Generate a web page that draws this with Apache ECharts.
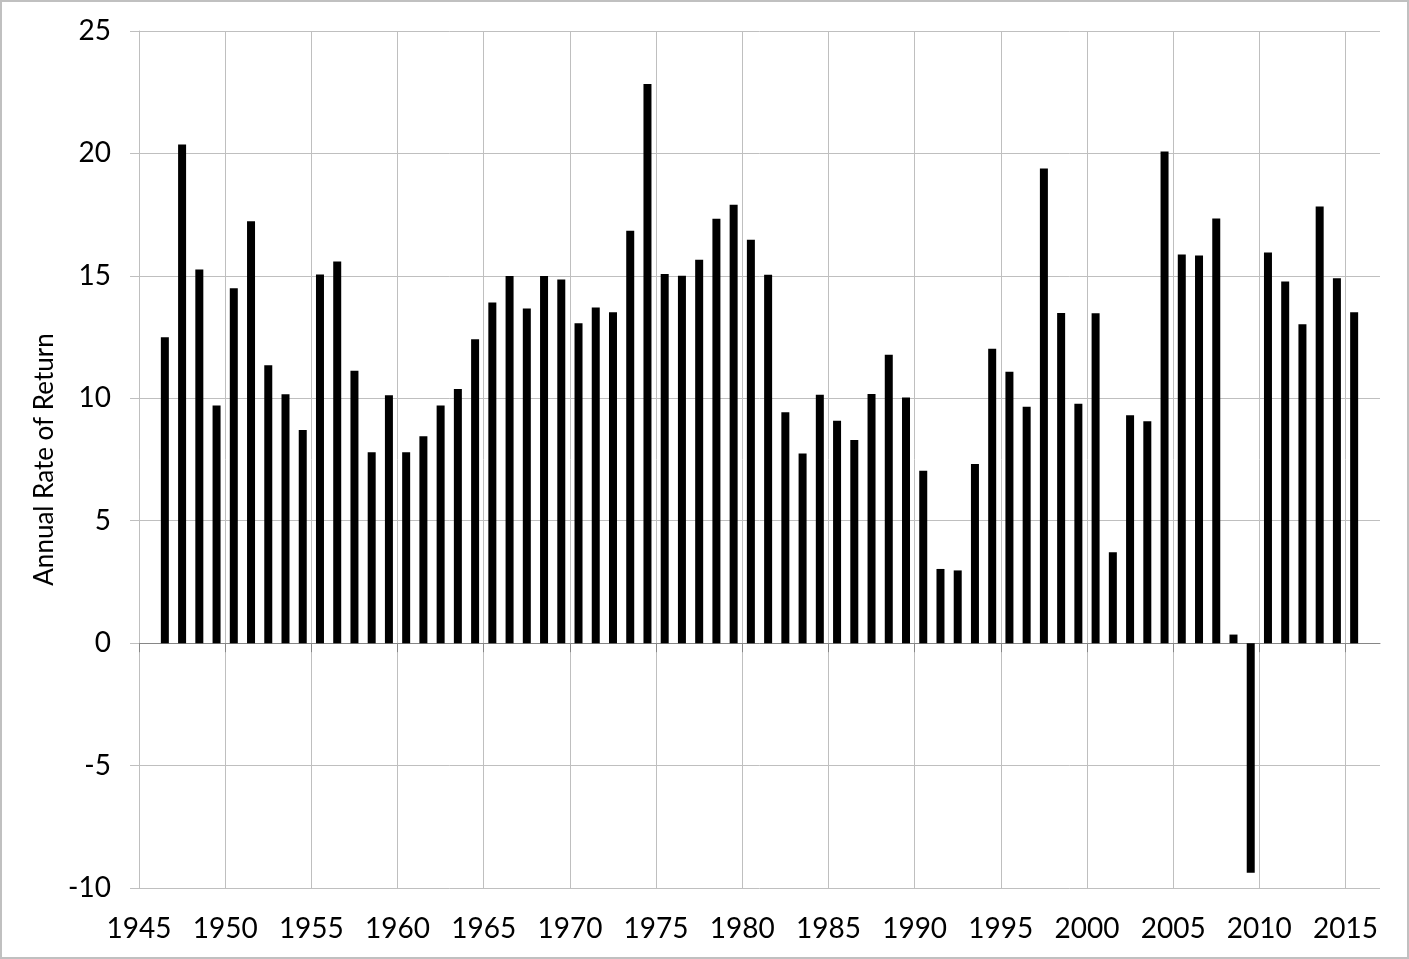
<!DOCTYPE html>
<html>
<head>
<meta charset="utf-8">
<script src="https://cdn.jsdelivr.net/npm/echarts@6/dist/echarts.min.js"></script>
<style>
  html, body { margin: 0; padding: 0; background: #fff; }
  #chart { width: 1409px; height: 959px; box-sizing: border-box; border: 2px solid #c0c0c0; }
</style>
</head>
<body>
<div id="chart"></div>
<script>
// years and annual rate of return
const years = [
  1946, 1947, 1948, 1949, 1950, 1951, 1952, 1953, 1954, 1955,
  1956, 1957, 1958, 1959, 1960, 1961, 1962, 1963, 1964, 1965,
  1966, 1967, 1968, 1969, 1970, 1971, 1972, 1973, 1974, 1975,
  1976, 1977, 1978, 1979, 1980, 1981, 1982, 1983, 1984, 1985,
  1986, 1987, 1988, 1989, 1990, 1991, 1992, 1993, 1994, 1995,
  1996, 1997, 1998, 1999, 2000, 2001, 2002, 2003, 2004, 2005,
  2006, 2007, 2008, 2009, 2010, 2011, 2012, 2013, 2014, 2015
];
const returns = [
  12.49, 20.36, 15.26, 9.71, 14.49, 17.23, 11.35, 10.16, 8.70, 15.06,
  15.59, 11.12, 7.80, 10.12, 7.80, 8.45, 9.71, 10.38, 12.41, 13.91,
  14.99, 13.67, 14.99, 14.85, 13.06, 13.71, 13.51, 16.84, 22.84, 15.08,
  15.00, 15.66, 17.33, 17.90, 16.47, 15.05, 9.43, 7.74, 10.14, 9.08,
  8.30, 10.18, 11.78, 10.03, 7.04, 3.03, 2.97, 7.32, 12.02, 11.08,
  9.65, 19.38, 13.48, 9.78, 13.47, 3.71, 9.31, 9.06, 20.08, 15.87,
  15.83, 17.34, 0.35, -9.38, 15.95, 14.77, 13.02, 17.83, 14.90, 13.51
];
const xTicks = [1945, 1950, 1955, 1960, 1965, 1970, 1975, 1980, 1985, 1990, 1995, 2000, 2005, 2010, 2015];
const yTicks = [-10, -5, 0, 5, 10, 15, 20, 25];

const gridColor = '#bfbfbf';
const zeroColor = '#868686';
const fontFamily = 'Lato, "Open Sans", sans-serif';

const chart = echarts.init(document.getElementById('chart'));

// bars sit in the middle of each year slot
const barData = years.map((y, i) => [y + 0.5, returns[i]]);

const option = {
  animation: false,
  backgroundColor: '#fff',
  textStyle: { fontFamily: fontFamily },
  grid: { left: 137, right: 27, top: 29, bottom: 69, containLabel: false },
  xAxis: [
    {
      type: 'value',
      position: 'bottom',
      min: 1945,
      max: 2017,
      interval: 5,
      axisLine: { show: false, onZero: false },
      axisTick: { show: false },
      axisLabel: {
        customValues: xTicks,
        color: '#000',
        fontSize: 28,
        fontFamily: fontFamily,
        margin: 27,
        formatter: v => String(v)
      },
      splitLine: { show: true, showMaxLine: false, lineStyle: { color: gridColor, width: 1 } }
    },
    {
      type: 'value',
      position: 'top',
      min: 1945,
      max: 2017,
      interval: 5,
      axisLine: { show: true, onZero: true, lineStyle: { color: zeroColor, width: 1 } },
      axisTick: { show: true, inside: true, length: 9, customValues: xTicks, lineStyle: { color: zeroColor } },
      axisLabel: { show: false },
      splitLine: { show: false }
    }
  ],
  yAxis: {
    type: 'value',
    min: -10,
    max: 25,
    interval: 5,
    name: 'Annual Rate of Return',
    nameLocation: 'middle',
    nameRotate: 90,
    nameGap: 74,
    nameTextStyle: { color: '#000', fontSize: 26, fontFamily: fontFamily },
    axisLine: { show: true, lineStyle: { color: gridColor, width: 1 } },
    axisTick: { show: true, length: 9, lineStyle: { color: gridColor } },
    axisLabel: {
      customValues: yTicks,
      color: '#000',
      fontSize: 28,
      fontFamily: fontFamily,
      margin: 28
    },
    splitLine: { show: true, lineStyle: { color: gridColor, width: 1 } }
  },
  series: [
    {
      type: 'bar',
      xAxisIndex: 0,
      yAxisIndex: 0,
      data: barData,
      barWidth: 8,
      itemStyle: { color: '#000' }
    }
  ]
};

chart.setOption(option);
</script>
</body>
</html>
